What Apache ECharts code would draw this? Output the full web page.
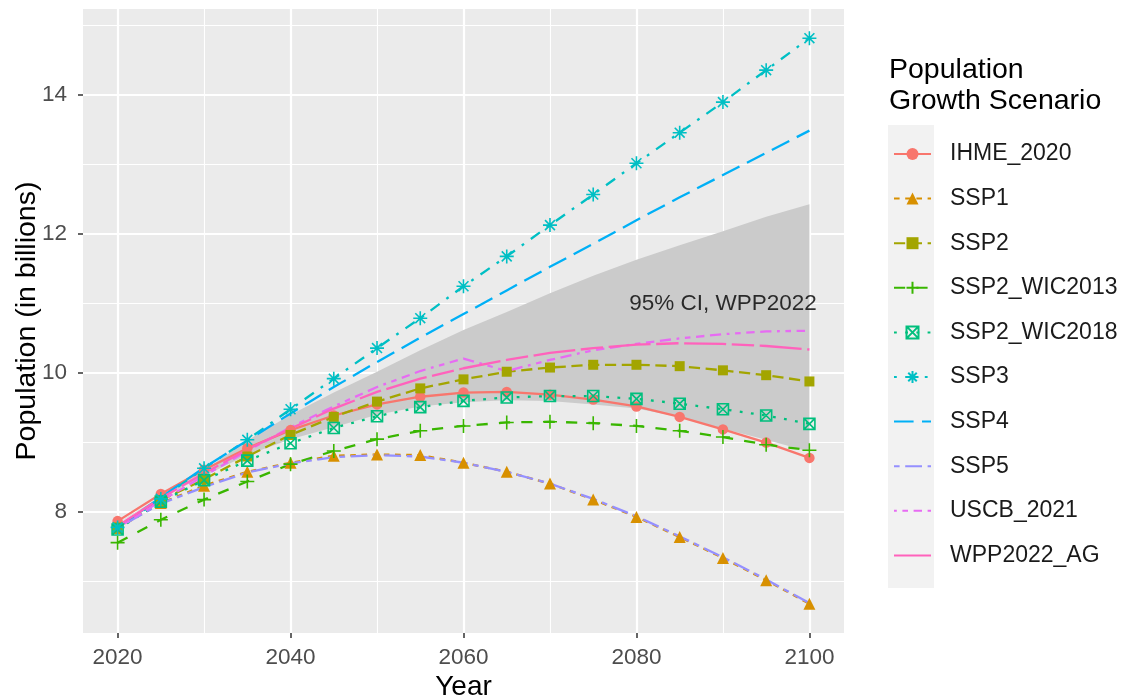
<!DOCTYPE html>
<html>
<head>
<meta charset="utf-8">
<script src="https://cdn.jsdelivr.net/npm/echarts@6/dist/echarts.min.js"></script>
<style>html,body{margin:0;padding:0;background:#fff}#c{width:1123px;height:700px}</style>
</head>
<body>
<div id="c"></div>
<script>
const years = [2020,2025,2030,2035,2040,2045,2050,2055,2060,2065,2070,2075,2080,2085,2090,2095,2100];
const IHME_2020    = [7.87,8.26,8.61,8.92,9.18,9.39,9.55,9.66,9.72,9.73,9.69,9.62,9.52,9.37,9.19,9.00,8.78];
const SSP1         = [7.77,8.13,8.38,8.58,8.71,8.81,8.83,8.82,8.71,8.58,8.41,8.18,7.93,7.64,7.34,7.02,6.68];
const SSP2         = [7.78,8.17,8.47,8.80,9.11,9.37,9.59,9.78,9.91,10.02,10.08,10.12,10.12,10.10,10.04,9.97,9.88];
const SSP2_WIC2013 = [7.56,7.89,8.18,8.44,8.69,8.88,9.05,9.17,9.24,9.29,9.30,9.28,9.24,9.17,9.08,8.97,8.89];
const SSP2_WIC2018 = [7.75,8.15,8.46,8.74,8.99,9.21,9.38,9.51,9.60,9.65,9.67,9.67,9.63,9.56,9.48,9.39,9.27];
const SSP3         = [7.78,8.19,8.63,9.04,9.48,9.92,10.36,10.79,11.25,11.68,12.13,12.57,13.02,13.46,13.90,14.36,14.82];
const SSP4         = [7.78,8.21,8.64,9.03,9.42,9.80,10.16,10.51,10.85,11.19,11.53,11.86,12.20,12.53,12.85,13.17,13.49];
const SSP5         = [7.77,8.12,8.36,8.57,8.70,8.79,8.82,8.80,8.71,8.58,8.41,8.19,7.94,7.65,7.35,7.03,6.69];
const USCB_2021    = [7.77,8.16,8.52,8.88,9.22,9.52,9.80,10.03,10.21,10.03,10.19,10.33,10.42,10.50,10.56,10.60,10.61];
const WPP2022_AG   = [7.80,8.20,8.56,8.90,9.20,9.49,9.73,9.92,10.07,10.19,10.29,10.36,10.41,10.43,10.42,10.39,10.34];
const ciLower      = [7.84,8.20,8.52,8.82,9.05,9.22,9.40,9.52,9.58,9.61,9.60,9.55,9.49,9.37,9.20,9.04,8.87];
const ciUpper      = [7.84,8.22,8.60,9.03,9.40,9.72,10.02,10.33,10.62,10.88,11.15,11.40,11.63,11.84,12.04,12.25,12.43];
const ciLabel      = {x: 2090, y: 11.0, text: '95% CI, WPP2022'};
const xTicks = [2020,2040,2060,2080,2100];
const xMinor = [2030,2050,2070,2090];
const yTicks = [8,10,12,14];
const yMinor = [7,9,11,13,15];

const u = 2.8;
const sym = {
  plus: 'path://M5,0L5,10M0,5L10,5',
  boxx: 'path://M0,0L10,0L10,10L0,10ZM0,0L10,10M10,0L0,10',
  ast:  'path://M5,0L5,10M0,5L10,5M1.46,1.46L8.54,8.54M1.46,8.54L8.54,1.46'
};
const defs = [
  {name:'IHME_2020', data:IHME_2020, color:'#F8766D', dash:'solid', symbol:'circle', size:10.5},
  {name:'SSP1', data:SSP1, color:'#D89000', dash:[2*u,2*u], symbol:'triangle', size:12},
  {name:'SSP2', data:SSP2, color:'#A3A500', dash:[4*u,2*u], symbol:'rect', size:10},
  {name:'SSP2_WIC2013', data:SSP2_WIC2013, color:'#39B600', dash:[4*u,4*u], symbol:sym.plus, size:14, stroke:true},
  {name:'SSP2_WIC2018', data:SSP2_WIC2018, color:'#00BF7D', dash:[1*u,3*u], symbol:sym.boxx, size:11, stroke:true},
  {name:'SSP3', data:SSP3, color:'#00BFC4', dash:[1*u,3*u,4*u,3*u], symbol:sym.ast, size:14, stroke:true},
  {name:'SSP4', data:SSP4, color:'#00B0F6', dash:[7*u,3*u], symbol:'none'},
  {name:'SSP5', data:SSP5, color:'#9590FF', dash:[2*u,2*u,6*u,2*u], symbol:'none'},
  {name:'USCB_2021', data:USCB_2021, color:'#E76BF3', dash:[1*u,2*u,2*u,2*u,3*u,2*u,4*u,2*u], symbol:'none'},
  {name:'WPP2022_AG', data:WPP2022_AG, color:'#FF62BC', dash:[15*u,2*u,8*u,2*u], symbol:'none'}
];

const pair = arr => years.map((y,i)=>[y, arr[i]]);
const font = '"Liberation Sans", Arial, sans-serif';

const gridLines = [];
yMinor.forEach(v=>gridLines.push({yAxis:v, lineStyle:{color:'#fff', width:1.1, type:'solid'}}));
yTicks.forEach(v=>gridLines.push({yAxis:v, lineStyle:{color:'#fff', width:2.2, type:'solid'}}));
xMinor.forEach(v=>gridLines.push({xAxis:v, lineStyle:{color:'#fff', width:1.1, type:'solid'}}));
xTicks.forEach(v=>gridLines.push({xAxis:v, lineStyle:{color:'#fff', width:2.2, type:'solid'}}));

const series = [
  {name:'_grid', type:'line', z:1, data:[[2016,6.26]], symbol:'none', silent:true,
   lineStyle:{opacity:0},
   markLine:{z:1, silent:true, symbol:['none','none'], label:{show:false}, animation:false, data:gridLines}},
  {name:'_ci', type:'custom', z:2, silent:true,
   data:years.map((y,i)=>[y, ciLower[i], ciUpper[i]]),
   encode:{x:0, y:[1,2]},
   renderItem:(params, api)=>{
     if (params.dataIndex !== 0) return null;
     const pts = [];
     for (let i=0;i<years.length;i++) pts.push(api.coord([years[i], ciUpper[i]]));
     for (let i=years.length-1;i>=0;i--) pts.push(api.coord([years[i], ciLower[i]]));
     return {type:'polygon', shape:{points:pts}, style:{fill:'#CBCBCB'}};
   }},
  {name:'_label', type:'scatter', z:4, data:[[ciLabel.x, ciLabel.y]], symbolSize:0, silent:true,
   label:{show:true, position:'inside', formatter:ciLabel.text, color:'#000', fontSize:22.5, fontFamily:font}}
];
defs.forEach(d=>{
  const none = d.symbol === 'none';
  series.push({
    name:d.name, type:'line', z:3, data:pair(d.data), smooth:false,
    symbol: none ? 'circle' : d.symbol, symbolSize:d.size || 1, showSymbol: !none,
    lineStyle:{color:d.color, width:2.3, type:d.dash},
    itemStyle: none ? {color:'rgba(0,0,0,0)', borderWidth:0}
             : d.stroke ? {color:'rgba(0,0,0,0)', borderColor:d.color, borderWidth:1.6}
                        : {color:d.color, borderWidth:0},
    emphasis:{disabled:true}
  });
});

const chart = echarts.init(document.getElementById('c'));
chart.setOption({
  animation:false,
  textStyle:{fontFamily:font},
  title:{text:'Population\nGrowth Scenario', left:884, top:50,
    textStyle:{fontSize:28.5, fontWeight:'normal', color:'#000', lineHeight:31, fontFamily:font}},
  graphic:[{type:'rect', left:888, top:125, shape:{width:46, height:463}, style:{fill:'#F2F2F2'}, z:-1}],
  legend:{
    orient:'vertical', left:888, top:137, itemWidth:37, itemHeight:15, itemGap:20.6,
    data:defs.map(d=>d.name),
    textStyle:{fontSize:23, color:'#1A1A1A', fontFamily:font, lineHeight:24, padding:[0,0,0,14]},
    selectedMode:false
  },
  grid:{left:83, right:279, top:9, bottom:67, show:true, backgroundColor:'#EBEBEB', borderWidth:0,
        containLabel:false, outerBoundsMode:'none'},
  xAxis:{type:'value', min:2016, max:2104,
    name:'Year', nameLocation:'middle', nameGap:40, nameMoveOverlap:false,
    nameTextStyle:{fontSize:28, color:'#000', fontFamily:font},
    axisLine:{show:false},
    axisTick:{show:true, length:5, lineStyle:{color:'#333', width:1.5}, customValues:xTicks},
    axisLabel:{color:'#4D4D4D', fontSize:22.5, margin:13, customValues:xTicks, fontFamily:font, formatter:v=>String(v)},
    splitLine:{show:false}},
  yAxis:{type:'value', min:6.26, max:15.24,
    name:'Population (in billions)', nameLocation:'middle', nameGap:41, nameMoveOverlap:false,
    nameTextStyle:{fontSize:28.5, color:'#000', fontFamily:font},
    axisLine:{show:false},
    axisTick:{show:true, length:5, lineStyle:{color:'#333', width:1.5}, customValues:yTicks},
    axisLabel:{color:'#4D4D4D', fontSize:22.5, margin:16, customValues:yTicks, fontFamily:font, formatter:v=>String(v)},
    splitLine:{show:false}},
  series:series
});
</script>
</body>
</html>
